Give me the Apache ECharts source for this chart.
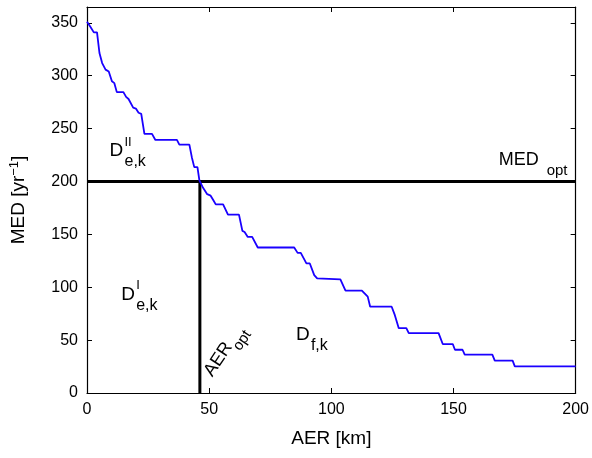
<!DOCTYPE html>
<html>
<head>
<meta charset="utf-8">
<script src="https://cdn.jsdelivr.net/npm/echarts@6/dist/echarts.min.js"></script>
<style>
html,body{margin:0;padding:0;background:#fff;}
#c{width:592px;height:458px;}
</style>
</head>
<body>
<div id="c"></div>
<script>
// Data
var aer = [0,1.3,2.8,4.1,5.1,6.2,7.6,8.9,10.2,11.2,12.2,14.9,16,17,18.9,20,21.1,22.2,23.5,26.6,28,36.8,37.8,41.9,42.9,43.9,45.2,46,47.5,49.2,50.6,51.6,52.7,55.7,57.7,62.2,63.6,64.5,65.8,67.6,69.9,84.8,86.2,87.5,89.8,91.2,93,94.2,95,103.7,105.8,112.5,114.9,115.9,124.7,126,127.6,130.7,131.7,143.9,145.6,149.7,150.6,153.7,154.6,165.9,166.9,174.2,175.1,200];
var med = [351,346.6,341,341,321.5,312,305.8,304,294.8,293,284.5,284.5,280,278,269.8,269,265,264,245,245,239.3,239.3,234.9,234.9,223,213.6,213.6,201,194,188,186.6,182.8,178.4,178.4,168.7,168.7,153.3,152.3,147.6,147.6,137.6,137.6,132.5,132.5,122.5,122.5,111.5,108.4,107.5,107.5,96.8,96.8,91.1,81.6,81.6,73.6,61.3,61.3,56.6,56.6,46.3,46.3,40.9,40.9,36.2,36.2,30.6,30.6,25.2,25.2];
var aerOpt = 46.2;
var medOpt = 200;
var xTicks = [0,50,100,150,200];
var yTicks = [0,50,100,150,200,250,300,350];

var FONT = 'Liberation Sans, Arial, Helvetica, sans-serif';
var chart = echarts.init(document.getElementById('c'));

function axisCommon(showLabel){
  return {
    axisLine:{show:true,onZero:false,lineStyle:{color:'#000',width:1.2}},
    axisTick:{show:true,inside:true,length:5,lineStyle:{color:'#000',width:1}},
    axisLabel:{show:showLabel,color:'#000',fontSize:16,fontFamily:FONT,margin:9,showMaxLabel:showLabel?null:false},
    splitLine:{show:false}
  };
}
var xb = Object.assign(axisCommon(true),{type:'value',position:'bottom',min:0,max:200,interval:50,
  name:'AER [km]',nameLocation:'middle',nameGap:36,nameTextStyle:{color:'#000',fontSize:19,fontFamily:FONT}});
var xt = Object.assign(axisCommon(false),{type:'value',position:'top',min:0,max:200,interval:50});
var yl = Object.assign(axisCommon(true),{type:'value',position:'left',min:0,max:365,interval:50,
  name:'MED [yr{s|\u22121}]',nameLocation:'middle',nameGap:58,
  nameTextStyle:{color:'#000',fontSize:19,fontFamily:FONT,
    rich:{s:{fontSize:13,fontFamily:FONT,color:'#000',verticalAlign:'top',padding:[0,0,8,0]}}}});
yl.axisLabel.showMaxLabel=false;
var yr = Object.assign(axisCommon(false),{type:'value',position:'right',min:0,max:365,interval:50});

var curve = aer.map(function(x,i){return [x,med[i]];});

chart.setOption({
  animation:false,
  grid:{left:86,right:14,top:7,bottom:65,containLabel:false},
  xAxis:[xb,xt],
  yAxis:[yl,yr],
  series:[
    {type:'line',xAxisIndex:0,yAxisIndex:0,data:[[0,medOpt],[200,medOpt]],showSymbol:false,symbol:'none',lineStyle:{color:'#000',width:3},silent:true},
    {type:'line',xAxisIndex:0,yAxisIndex:0,data:[[aerOpt,0],[aerOpt,medOpt]],showSymbol:false,symbol:'none',lineStyle:{color:'#000',width:3},silent:true},
    {type:'line',xAxisIndex:0,yAxisIndex:0,data:curve,showSymbol:false,symbol:'none',lineStyle:{color:'#1a00ff',width:1.8},silent:true}
  ]
});

// Annotations (anchored in data coordinates)
function txt(x,y,t,size){
  return {type:'text',x:x,y:y,style:{text:t,fill:'#000',fontSize:size,fontFamily:FONT,verticalAlign:'top',textVerticalAlign:'top'}};
}
function label(dx,dy,parts,rot){
  var p = chart.convertToPixel({gridIndex:0},[dx,dy]);
  var children = parts.map(function(q){return txt(q[1],q[2],q[0],q[3]);});
  return {type:'group',x:p[0],y:p[1],rotation:rot||0,children:children};
}
var g = [];
// D^II_{e,k}
g.push(label(9.2,238,[['D',0,0,19],['II',15,-5,13],['e,k',15,12,16]]));
// D^I_{e,k}
g.push(label(14,102,[['D',0,0,19],['I',15,-6,13],['e,k',15,12,16]]));
// D_{f,k}
g.push(label(85.5,64,[['D',0,0,19],['f,k',15,12,16]]));
// MED_opt
g.push(label(168.5,228.5,[['MED',0,0,18],['opt',48,12,15]]));
// AER_opt rotated
g.push(label(46.5,22,[['AER',0,0,18],['opt',37,11,15]],0.98));
chart.setOption({graphic:g});
</script>
</body>
</html>
